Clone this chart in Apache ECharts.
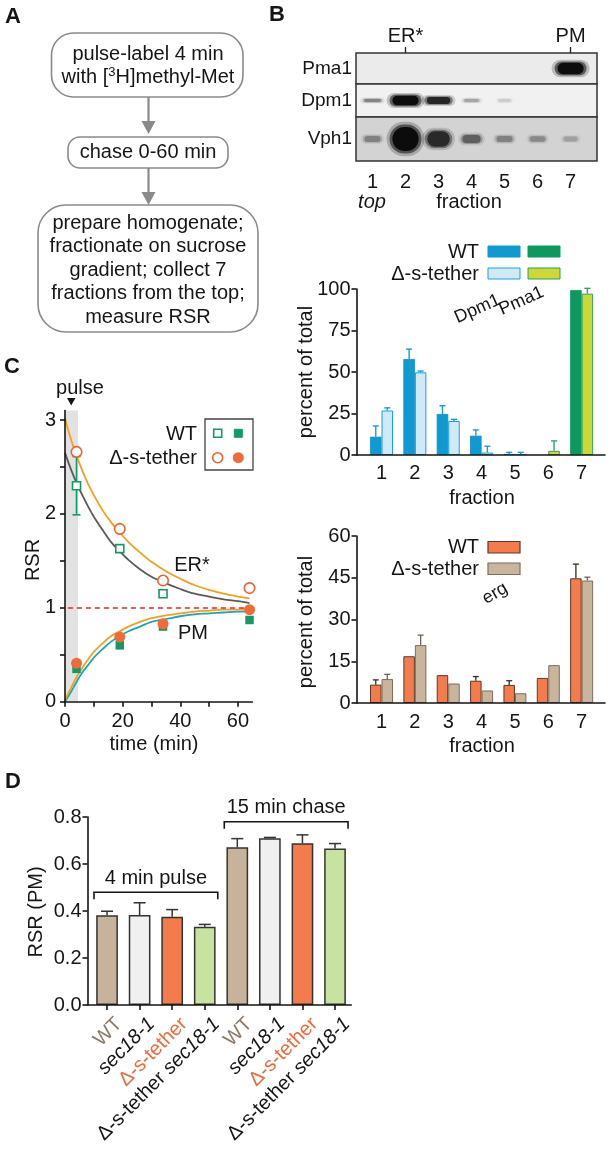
<!DOCTYPE html>
<html><head><meta charset="utf-8">
<script src="https://cdn.jsdelivr.net/npm/echarts@6/dist/echarts.min.js"></script>
<style>html,body{margin:0;padding:0;background:#fff}#c{width:610px;height:1150px}</style>
</head><body><div id="c"></div>
<script>
// ================= DATA =================
// Panel B – blot (band intensity 0..1 per lane)
const lanes = [1, 2, 3, 4, 5, 6, 7];
const blotRows = ['Pma1', 'Dpm1', 'Vph1'];
const pma1Band = [0, 0, 0, 0, 0, 0, 1.0];
const dpm1Band = [0.35, 1.0, 0.8, 0.22, 0.06, 0, 0];
const vph1Band = [0.3, 1.0, 0.75, 0.45, 0.3, 0.26, 0.16];
const markerLanes = [2, 7];
const markerNames = ['ER*', 'PM'];

// Panel B – Dpm1 / Pma1 distribution (percent of total)
const fractions = [1, 2, 3, 4, 5, 6, 7];
const dpm1WT = [11, 57.8, 24.7, 11.6, 0.6, 0, 0];
const dpm1WTErr = [6.5, 6, 5, 3.5, 1, 0, 0];
const dpm1Del = [26.8, 49.8, 20.5, 1.5, 0.6, 0, 0];
const dpm1DelErr = [1.6, 0.8, 1, 3.8, 1, 0, 0];
const pma1WT = [0, 0, 0, 0, 0, 0, 99.4];
const pma1Del = [0, 0, 0, 0, 0, 2.5, 97.2];
const pma1DelErr = [0, 0, 0, 0, 0, 6, 3.2];

// Panel B – erg distribution
const ergWT = [6.6, 16.8, 10, 8, 6.5, 9, 44.8];
const ergWTErr = [1.7, 0, 0, 1.5, 1.5, 0, 5.1];
const ergDel = [8.6, 20.8, 7, 4.5, 3.5, 13.6, 44];
const ergDelErr = [1.7, 3.6, 0, 0, 0, 0, 1.2];

// Panel C – RSR time course
const timePts = [4, 19, 34, 64];
const erWT = [2.3, 1.63, 1.15, null];
const erWTErr = [0.31, 0, 0, 0];
const erDel = [2.66, 1.84, 1.29, 1.21];
const pmWT = [0.35, 0.60, 0.80, 0.87];
const pmDel = [0.41, 0.69, 0.83, 0.98];
const fitTime = [0, 2, 4, 6, 8, 10, 13, 16, 19, 22, 26, 30, 35, 40, 45, 50, 55, 60, 64];
const fitErWT = [2.65, 2.48, 2.33, 2.20, 2.08, 1.97, 1.83, 1.70, 1.60, 1.51, 1.41, 1.33, 1.26, 1.20, 1.15, 1.12, 1.09, 1.07, 1.05];
const fitErDel = [3.02, 2.80, 2.62, 2.46, 2.32, 2.20, 2.04, 1.91, 1.80, 1.70, 1.59, 1.49, 1.39, 1.31, 1.24, 1.19, 1.15, 1.12, 1.10];
const fitPmDel = [0.02, 0.14, 0.26, 0.36, 0.45, 0.53, 0.62, 0.70, 0.75, 0.80, 0.85, 0.89, 0.92, 0.94, 0.96, 0.97, 0.98, 0.98, 0.99];
const fitPmWT = [0.00, 0.10, 0.21, 0.31, 0.39, 0.47, 0.56, 0.64, 0.70, 0.75, 0.80, 0.85, 0.88, 0.91, 0.93, 0.94, 0.95, 0.96, 0.96];
const pulseWindow = [0, 4.5];
const refLevel = 1;
const cXTicks = [0, 10, 20, 30, 40, 50, 60];
const cXLabels = [0, 20, 40, 60];
const cYTicks = [0, 0.5, 1, 1.5, 2, 2.5, 3];
const cYLabels = [0, 1, 2, 3];

// Panel D – RSR (PM)
const dLabels = ['WT', 'sec18-1', 'Δ-s-tether', 'Δ-s-tether sec18-1', 'WT', 'sec18-1', 'Δ-s-tether', 'Δ-s-tether sec18-1'];
const dRSR = [0.382, 0.383, 0.376, 0.333, 0.671, 0.710, 0.688, 0.666];
const dErr = [0.017, 0.052, 0.030, 0.010, 0.037, 0.003, 0.036, 0.021];
const dGroupNames = ['4 min pulse', '15 min chase'];
const dGroupFrom = [1, 5];
const dGroupTo = [4, 8];
const dGroupLevel = [0.48, 0.78];

// ================= STYLE =================
const FONT = "'Liberation Sans', Arial, Helvetica, sans-serif";
const INK = '#151515';
const dPos = dLabels.map((_, i) => i + 1);
const dColors = ['#c7b29b', '#f0f0f0', '#f47b4b', '#c8e39f'];
const dRich = {
  wt: { fill: '#8c7a68', color: '#8c7a68', fontSize: 20, fontFamily: FONT },
  it: { fill: INK, color: INK, fontSize: 20, fontFamily: FONT, fontStyle: 'italic' },
  del: { fill: '#ec6a3c', color: '#ec6a3c', fontSize: 20, fontFamily: FONT }
};
function dRichText(s) {
  if (s === 'WT') return '{wt|WT}';
  if (s === 'sec18-1') return '{it|sec18-1}';
  if (s === 'Δ-s-tether') return '{del|Δ-s-tether}';
  return s.replace('sec18-1', '{it|sec18-1}');
}

function T(text, x, y, o) {
  o = o || {};
  const al = o.align || 'center';
  return { type: 'text', x: x, y: y, rotation: o.rot || 0, z: 100, silent: true,
    style: { text: text, fontSize: o.size || 20, fontFamily: FONT, fontWeight: o.weight || 'normal',
      fontStyle: o.fstyle || 'normal', fill: o.color || INK, align: al, verticalAlign: 'middle',
      textAlign: al, textVerticalAlign: 'middle', rich: o.rich } };
}
function R(x, y, w, h, fill, stroke, r, lw) {
  return { type: 'rect', z: 90, silent: true, shape: { x: x, y: y, width: w, height: h, r: r || 0 },
    style: { fill: fill, stroke: stroke, lineWidth: lw || 1 } };
}
const deg = Math.PI / 180;

function valAxis(grid, o) {
  return Object.assign({
    type: 'value', gridIndex: grid,
    axisLine: { show: true, lineStyle: { color: INK, width: 1.6 } },
    axisTick: { show: true, length: 5, lineStyle: { color: INK, width: 1.6 } },
    axisLabel: { color: INK, fontSize: 20, fontFamily: FONT },
    splitLine: { show: false }, z: 10
  }, o);
}

function errSeries(ax, xs, tops, errs, dx, color, capW, lw, both) {
  const data = [];
  xs.forEach((x, i) => { if (errs[i] > 0 && tops[i] != null) data.push([x, tops[i], errs[i]]); });
  return { type: 'custom', xAxisIndex: ax, yAxisIndex: ax, data: data, z: 6, silent: true, clip: false,
    renderItem: function (params, api) {
      const x = api.value(0), t = api.value(1), e = api.value(2);
      const pTop = api.coord([x, t + e]);
      const pBot = api.coord([x, both ? t - e : t]);
      const cx = pTop[0] + dx;
      const st = { stroke: color, lineWidth: lw };
      const ch = [
        { type: 'line', shape: { x1: cx, y1: pBot[1], x2: cx, y2: pTop[1] }, style: st },
        { type: 'line', shape: { x1: cx - capW / 2, y1: pTop[1], x2: cx + capW / 2, y2: pTop[1] }, style: st }
      ];
      if (both) ch.push({ type: 'line', shape: { x1: cx - capW / 2, y1: pBot[1], x2: cx + capW / 2, y2: pBot[1] }, style: st });
      return { type: 'group', children: ch };
    } };
}
const nz = v => (v ? v : '-');

function bandSeries(ax, band, hFrac) {
  return { type: 'custom', xAxisIndex: ax, yAxisIndex: ax, silent: true, z: 3, clip: true,
    data: lanes.map((l, i) => [l, 0, band[i]]).filter(d => d[2] > 0),
    renderItem: function (params, api) {
      const I = api.value(2);
      const p = api.coord([api.value(0), 0]);
      const rowH = params.coordSys.height;
      const w0 = 14 + 18 * I;
      const h0 = Math.max(4, rowH * hFrac * (0.18 + 0.82 * I * I));
      const a = Math.min(0.97, 0.06 + 0.92 * Math.pow(I, 1.25));
      const layers = [[1.14, 1.5, 0.22], [1.0, 0, 0.55], [0.82, 0, 1.0]];
      const children = layers.map(function (L) {
        const w = w0 * L[0] + L[1], h = h0 * L[0] + L[1];
        return { type: 'rect', shape: { x: p[0] - w / 2, y: p[1] - h / 2, width: w, height: h, r: h / 2 },
          style: { fill: 'rgba(10,10,10,' + (a * L[2]).toFixed(3) + ')' } };
      });
      return { type: 'group', children: children };
    } };
}

// ================= GRAPHICS (labels, flowchart, legends) =================
const g = [];
// panel letters
g.push(T('A', 13, 17, { size: 22, weight: 'bold' }));
g.push(T('B', 277, 15, { size: 22, weight: 'bold' }));
g.push(T('C', 12, 367, { size: 22, weight: 'bold' }));
g.push(T('D', 13, 782, { size: 22, weight: 'bold' }));
// flowchart
const FC = '#8a8a8a';
g.push(R(51.5, 33, 191.5, 64, '#fff', FC, 22, 1.6));
g.push(R(68, 137, 160, 31, '#fff', FC, 12, 1.6));
g.push(R(38, 205, 220, 127, '#fff', FC, 28, 1.6));
[[97, 122], [168, 193]].forEach(function (a) {
  g.push({ type: 'line', z: 90, silent: true, shape: { x1: 148.5, y1: a[0], x2: 148.5, y2: a[1] }, style: { stroke: FC, lineWidth: 2.2 } });
  g.push({ type: 'polygon', z: 90, silent: true, shape: { points: [[141.5, a[1] - 1], [155.5, a[1] - 1], [148.5, a[1] + 12]] }, style: { fill: FC } });
});
g.push(T('pulse-label 4 min', 148, 54));
g.push(T('with [{s|3}H]methyl-Met', 148, 77, { rich: { s: { fontSize: 13, fontFamily: FONT, fill: INK, color: INK, padding: [0, 0, 9, 0] } } }));
g.push(T('chase 0-60 min', 148, 152.5));
['prepare homogenate;', 'fractionate on sucrose', 'gradient; collect 7', 'fractions from the top;', 'measure RSR']
  .forEach((s, i) => g.push(T(s, 148, 223 + i * 23.5)));
// blot captions
g.push(T('top', 372, 202, { fstyle: 'italic' }));
g.push(T('fraction', 469, 202));
// top bar legend
g.push(T('WT', 479, 252, { align: 'right' }));
g.push(T('Δ-s-tether', 479, 274, { align: 'right' }));
g.push(R(488, 246, 32, 11, '#0f9ad4', '#0f9ad4', 0, 1));
g.push(R(528, 246, 32, 11, '#0c9960', '#0c9960', 0, 1));
g.push(R(488, 268, 32, 11, '#d0e9f6', '#1c9fd6', 0, 1));
g.push(R(528, 268, 32, 11, '#cbd930', '#2f9c62', 0, 1));
g.push(T('Dpm1', 477.5, 309, { size: 18, rot: 24 * deg }));
g.push(T('Pma1', 521.5, 301, { size: 18, rot: 24 * deg }));
g.push(T('percent of total', 306, 372, { rot: 90 * deg }));
g.push(T('fraction', 482, 498));
// erg legend
g.push(T('WT', 479, 547, { align: 'right' }));
g.push(T('Δ-s-tether', 479, 569, { align: 'right' }));
g.push(R(488, 541.5, 32, 11.5, '#f47b4b', '#5a3a2a', 0, 1.2));
g.push(R(488, 563, 32, 11.5, '#c9b59c', '#7b6d5f', 0, 1.2));
g.push(T('erg', 495, 593.5, { size: 18, rot: 30 * deg }));
g.push(T('percent of total', 306, 622, { rot: 90 * deg }));
g.push(T('fraction', 482, 746));
// panel C annotations
g.push(T('pulse', 80, 388));
g.push({ type: 'polygon', z: 90, silent: true, shape: { points: [[67, 398], [75.5, 398], [71.2, 405.5]] }, style: { fill: INK } });
g.push(R(205, 419, 48, 51, 'rgba(0,0,0,0)', '#444', 0, 1.3));
g.push(T('WT', 197, 434.5, { align: 'right' }));
g.push(T('Δ-s-tether', 197, 458, { align: 'right' }));
g.push(R(213.7, 429.3, 8, 8, '#fff', '#139a64', 0, 1.6));
g.push(R(234.3, 429.3, 8, 8, '#139a64', '#139a64', 0, 1));
g.push({ type: 'circle', z: 90, silent: true, shape: { cx: 217.7, cy: 457.7, r: 5 }, style: { fill: '#fff', stroke: '#f0602e', lineWidth: 1.6 } });
g.push({ type: 'circle', z: 90, silent: true, shape: { cx: 238.3, cy: 457.7, r: 5.5 }, style: { fill: '#f26a3a' } });
g.push(T('ER*', 192, 565));
g.push(T('PM', 193, 633));
g.push(T('RSR', 33, 560, { rot: 90 * deg }));
g.push(T('time (min)', 154, 744));
// panel D
g.push(T('RSR (PM)', 36, 912, { rot: 90 * deg }));

// ================= CHART =================
const chart = echarts.init(document.getElementById('c'), null, { renderer: 'canvas', width: 610, height: 1150 });
const blotGridBase = { left: 356, width: 241, show: true, borderColor: '#333', borderWidth: 1.5, outerBoundsMode: 'none' };
const option = {
  animation: false,
  backgroundColor: '#fff',
  textStyle: { fontFamily: FONT },
  grid: [
    { left: 65, top: 410.6, width: 187.4, height: 291.1, outerBoundsMode: 'none' },   // 0: C
    { left: 356.5, top: 289, width: 248.5, height: 166, outerBoundsMode: 'none' },   // 1: B Dpm1/Pma1
    { left: 356.5, top: 536, width: 248.5, height: 167, outerBoundsMode: 'none' },   // 2: B erg
    { left: 87.5, top: 817, width: 263.8, height: 188, outerBoundsMode: 'none' },    // 3: D
    Object.assign({ top: 53, height: 31, backgroundColor: '#ebebeb' }, blotGridBase),   // 4 blot Pma1
    Object.assign({ top: 84, height: 33, backgroundColor: '#f1f1f1' }, blotGridBase),   // 5 blot Dpm1
    Object.assign({ top: 117, height: 44, backgroundColor: '#d3d3d3' }, blotGridBase)   // 6 blot Vph1
  ],
  xAxis: [
    valAxis(0, { min: 0, max: 65,
      axisTick: { show: true, length: 5, customValues: cXTicks, lineStyle: { color: INK, width: 1.6 } },
      axisLabel: { customValues: cXLabels, margin: 10, color: INK, fontSize: 20, fontFamily: FONT } }),
    valAxis(1, { min: 0.25, max: 7.7, axisTick: { show: false },
      axisLabel: { customValues: fractions, margin: 8, color: INK, fontSize: 20, fontFamily: FONT } }),
    valAxis(2, { min: 0.25, max: 7.7, axisTick: { show: false },
      axisLabel: { customValues: fractions, margin: 9, color: INK, fontSize: 20, fontFamily: FONT } }),
    valAxis(3, { min: 0.4, max: 8.5,
      axisTick: { show: true, length: 5, customValues: dPos, lineStyle: { color: INK, width: 1.6 } },
      axisLabel: { show: false } }),
    { type: 'value', gridIndex: 4, min: 0.5, max: 7.8, position: 'top',
      axisLine: { show: false }, splitLine: { show: false },
      axisTick: { show: true, length: 6, customValues: markerLanes, lineStyle: { color: '#222', width: 1.3 } },
      axisLabel: { customValues: markerLanes, margin: 7, color: INK, fontSize: 20, fontFamily: FONT,
        formatter: v => markerNames[markerLanes.indexOf(v)] } },
    { type: 'value', gridIndex: 5, min: 0.5, max: 7.8, show: false, splitLine: { show: false } },
    { type: 'value', gridIndex: 6, min: 0.5, max: 7.8, position: 'bottom',
      axisLine: { show: false }, axisTick: { show: false }, splitLine: { show: false },
      axisLabel: { customValues: lanes, margin: 11, color: INK, fontSize: 20, fontFamily: FONT } }
  ],
  yAxis: [
    valAxis(0, { min: 0, max: 3.1,
      axisTick: { show: true, length: 5, customValues: cYTicks, lineStyle: { color: INK, width: 1.6 } },
      axisLabel: { customValues: cYLabels, margin: 9, color: INK, fontSize: 20, fontFamily: FONT } }),
    valAxis(1, { min: 0, max: 100, interval: 25, axisLabel: { margin: 6, color: INK, fontSize: 20, fontFamily: FONT } }),
    valAxis(2, { min: 0, max: 60, interval: 15, axisLabel: { margin: 6, color: INK, fontSize: 20, fontFamily: FONT } }),
    valAxis(3, { min: 0, max: 0.8, interval: 0.2,
      axisLabel: { margin: 6, color: INK, fontSize: 20, fontFamily: FONT, formatter: v => v.toFixed(1) } }),
    { type: 'category', gridIndex: 4, data: [blotRows[0]], axisLine: { show: false }, axisTick: { show: false },
      axisLabel: { margin: 4, color: INK, fontSize: 19, fontFamily: FONT } },
    { type: 'category', gridIndex: 5, data: [blotRows[1]], axisLine: { show: false }, axisTick: { show: false },
      axisLabel: { margin: 4, color: INK, fontSize: 19, fontFamily: FONT } },
    { type: 'category', gridIndex: 6, data: [blotRows[2]], axisLine: { show: false }, axisTick: { show: false },
      axisLabel: { margin: 4, color: INK, fontSize: 19, fontFamily: FONT } }
  ],
  series: [
    // ---------- Panel C ----------
    { type: 'line', xAxisIndex: 0, yAxisIndex: 0, z: 1, silent: true, symbol: 'none',
      data: [[0, refLevel]], lineStyle: { opacity: 0 },
      markArea: { silent: true, itemStyle: { color: '#e2e2e2' }, data: [[{ xAxis: pulseWindow[0] }, { xAxis: pulseWindow[1] }]] },
      markLine: { silent: true, symbol: ['none', 'none'], label: { show: false },
        lineStyle: { color: '#e8202a', type: [5, 4], width: 1.6 },
        data: [[{ coord: [1, refLevel] }, { coord: [63.5, refLevel] }]] } },
    { type: 'line', xAxisIndex: 0, yAxisIndex: 0, z: 3, silent: true, symbol: 'none', smooth: 0.35,
      data: fitTime.map((t, i) => [t, fitErWT[i]]), lineStyle: { color: '#5a5a5a', width: 1.8 } },
    { type: 'line', xAxisIndex: 0, yAxisIndex: 0, z: 3, silent: true, symbol: 'none', smooth: 0.35,
      data: fitTime.map((t, i) => [t, fitPmWT[i]]), lineStyle: { color: '#1aa8b6', width: 1.8 } },
    { type: 'line', xAxisIndex: 0, yAxisIndex: 0, z: 3, silent: true, symbol: 'none', smooth: 0.35,
      data: fitTime.map((t, i) => [t, fitErDel[i]]), lineStyle: { color: '#f5a01c', width: 1.8 } },
    { type: 'line', xAxisIndex: 0, yAxisIndex: 0, z: 3, silent: true, symbol: 'none', smooth: 0.35,
      data: fitTime.map((t, i) => [t, fitPmDel[i]]), lineStyle: { color: '#f5a01c', width: 1.8 } },
    errSeries(0, timePts, erWT, erWTErr, 0, '#139a64', 8, 1.6, true),
    { type: 'scatter', xAxisIndex: 0, yAxisIndex: 0, z: 7, silent: true, symbol: 'rect', symbolSize: 8,
      data: timePts.map((t, i) => [t, erWT[i]]).filter(d => d[1] != null),
      itemStyle: { color: '#fff', borderColor: '#139a64', borderWidth: 1.6, opacity: 1 } },
    { type: 'scatter', xAxisIndex: 0, yAxisIndex: 0, z: 7, silent: true, symbol: 'circle', symbolSize: 10.5,
      data: timePts.map((t, i) => [t, erDel[i]]),
      itemStyle: { color: '#fff', borderColor: '#f0602e', borderWidth: 1.6, opacity: 1 } },
    { type: 'scatter', xAxisIndex: 0, yAxisIndex: 0, z: 7, silent: true, symbol: 'rect', symbolSize: 8.5,
      data: timePts.map((t, i) => [t, pmWT[i]]), itemStyle: { color: '#139a64', opacity: 1 } },
    { type: 'scatter', xAxisIndex: 0, yAxisIndex: 0, z: 8, silent: true, symbol: 'circle', symbolSize: 11,
      data: timePts.map((t, i) => [t, pmDel[i]]), itemStyle: { color: '#f26a3a', opacity: 1 } },

    // ---------- Panel B blot ----------
    bandSeries(4, pma1Band, 0.45),
    bandSeries(5, dpm1Band, 0.36),
    bandSeries(6, vph1Band, 0.66),

    // ---------- Panel B Dpm1/Pma1 bars ----------
    { type: 'bar', xAxisIndex: 1, yAxisIndex: 1, stack: 'wt', barWidth: 11.5, barGap: '0%', silent: true,
      data: fractions.map((f, i) => [f, nz(dpm1WT[i])]), itemStyle: { color: '#0f9ad4', borderColor: '#0f8cc4', borderWidth: 0.8 } },
    { type: 'bar', xAxisIndex: 1, yAxisIndex: 1, stack: 'del', barWidth: 11.5, barGap: '0%', silent: true,
      data: fractions.map((f, i) => [f, nz(dpm1Del[i])]), itemStyle: { color: '#d0e9f6', borderColor: '#1c9fd6', borderWidth: 1 } },
    { type: 'bar', xAxisIndex: 1, yAxisIndex: 1, stack: 'wt', barWidth: 11.5, barGap: '0%', silent: true,
      data: fractions.map((f, i) => [f, nz(pma1WT[i])]), itemStyle: { color: '#0c9960', borderColor: '#0c9960', borderWidth: 0.8 } },
    { type: 'bar', xAxisIndex: 1, yAxisIndex: 1, stack: 'del', barWidth: 11.5, barGap: '0%', silent: true,
      data: fractions.map((f, i) => [f, nz(pma1Del[i])]), itemStyle: { color: '#cbd930', borderColor: '#2f9c62', borderWidth: 1 } },
    errSeries(1, fractions, dpm1WT, dpm1WTErr, -5.75, '#1a9ad0', 6, 1.4, false),
    errSeries(1, fractions, dpm1Del, dpm1DelErr, 5.75, '#1a9ad0', 6, 1.4, false),
    errSeries(1, fractions, pma1Del, pma1DelErr, 5.75, '#2f9c82', 6, 1.4, false),

    // ---------- Panel B erg bars ----------
    { type: 'bar', xAxisIndex: 2, yAxisIndex: 2, barWidth: 11.5, barGap: '0%', silent: true,
      data: fractions.map((f, i) => [f, ergWT[i]]), itemStyle: { color: '#f47b4b', borderColor: '#5a3a2a', borderWidth: 1 } },
    { type: 'bar', xAxisIndex: 2, yAxisIndex: 2, barWidth: 11.5, barGap: '0%', silent: true,
      data: fractions.map((f, i) => [f, ergDel[i]]), itemStyle: { color: '#c9b59c', borderColor: '#7b6d5f', borderWidth: 1 } },
    errSeries(2, fractions, ergWT, ergWTErr, -5.75, '#3a2a22', 6, 1.3, false),
    errSeries(2, fractions, ergDel, ergDelErr, 5.75, '#6e6256', 6, 1.3, false),

    // ---------- Panel D ----------
    { type: 'bar', xAxisIndex: 3, yAxisIndex: 3, barWidth: 21.7, silent: true,
      data: dPos.map((x, i) => ({ value: [x, dRSR[i]], itemStyle: { color: dColors[i % 4] } })),
      itemStyle: { borderColor: '#333', borderWidth: 1.5 } },
    errSeries(3, dPos, dRSR, dErr, 0, '#333', 12, 1.5, false),
    { type: 'custom', xAxisIndex: 3, yAxisIndex: 3, silent: true, z: 6, clip: false,
      data: dGroupNames.map((n, i) => [dGroupFrom[i], dGroupLevel[i], dGroupTo[i], i]),
      renderItem: function (params, api) {
        const a = api.coord([api.value(0) - 0.4, api.value(1)]);
        const b = api.coord([api.value(2) + 0.4, api.value(1)]);
        const name = dGroupNames[api.value(3)];
        return { type: 'group', children: [
          { type: 'polyline', shape: { points: [[a[0], a[1] + 7], [a[0], a[1]], [b[0], a[1]], [b[0], a[1] + 7]] },
            style: { stroke: INK, lineWidth: 1.6, fill: null } },
          { type: 'text', x: (a[0] + b[0]) / 2, y: a[1] - 14,
            style: { text: name, fontSize: 20, fontFamily: FONT, fill: INK, align: 'center', verticalAlign: 'middle',
              textAlign: 'center', textVerticalAlign: 'middle' } }
        ] };
      } },
    { type: 'custom', xAxisIndex: 3, yAxisIndex: 3, silent: true, z: 6, clip: false,
      data: dPos.map((x, i) => [x, 0, i]),
      renderItem: function (params, api) {
        const p = api.coord([api.value(0), api.value(1)]);
        return { type: 'text', x: p[0] + 12, y: p[1] + 16, rotation: 45 * deg,
          style: { text: dRichText(dLabels[api.value(2)]), rich: dRich, fontSize: 20, fontFamily: FONT, fill: INK,
            align: 'right', verticalAlign: 'middle', textAlign: 'right', textVerticalAlign: 'middle' } };
      } }
  ],
  graphic: { elements: g }
};
chart.setOption(option);
</script></body></html>
